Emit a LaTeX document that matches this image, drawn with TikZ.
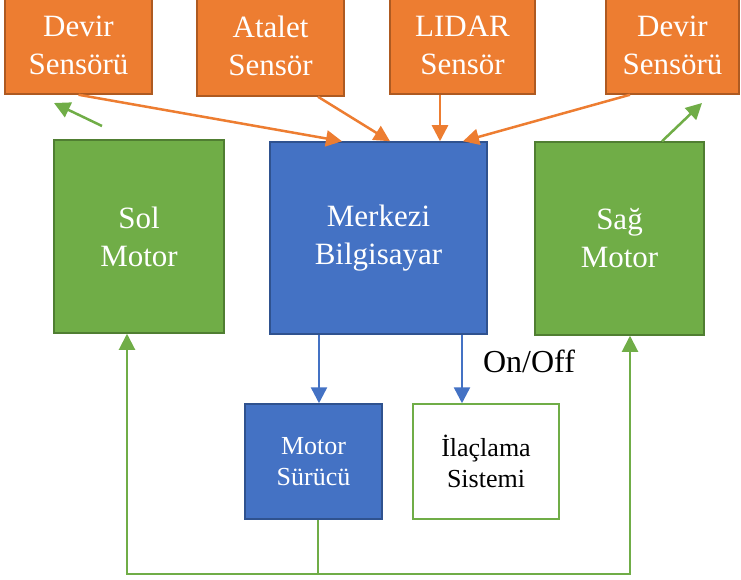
\documentclass[tikz,border=0pt]{standalone}
\usepackage{fontspec}
\setmainfont{Liberation Serif}
\usepackage{tikz}
\usetikzlibrary{arrows.meta,positioning}

\definecolor{orfill}{HTML}{ED7D31}
\definecolor{ordraw}{HTML}{AE5A21}
\definecolor{blfill}{HTML}{4472C4}
\definecolor{bldraw}{HTML}{2F528F}
\definecolor{grfill}{HTML}{70AD47}
\definecolor{grdraw}{HTML}{507E32}

\begin{document}
\begin{tikzpicture}[x=1pt,y=-1pt,>={Triangle[length=16pt,width=16pt]},
    box/.style={rectangle,inner sep=0pt,line width=1.5pt,align=center,
      text=white,font=\fontsize{31}{38}\selectfont},
    sensor/.style={box,fill=orfill,draw=ordraw},
    motorbox/.style={box,fill=grfill,draw=grdraw,minimum width=170pt,minimum height=193pt},
    small/.style={font=\fontsize{26}{31}\selectfont}]
    \tikzstyle{orline}=[draw=orfill,line width=2.5pt,->]
    \tikzstyle{blline}=[draw=blfill,line width=2.5pt,->]
    \tikzstyle{grline}=[draw=grfill,line width=2.5pt]
    \useasboundingbox (0,0) rectangle (741,580);
    % sensors on top
    \node[sensor,minimum width=147pt,minimum height=98pt] (dev1) at (78.5,45)  {Devir\\Sensörü};
    \node[sensor,minimum width=147pt,minimum height=100pt] (atl) at (270.5,46) {Atalet\\Sensör};
    \node[sensor,minimum width=145pt,minimum height=98pt] (lid) at (462.5,45) {LIDAR\\Sensör};
    \node[sensor,minimum width=133pt,minimum height=98pt] (dev2) at (672.5,45) {Devir\\Sensörü};
    % middle row
    \node[motorbox] (sol) at (139,236.5) {Sol\\Motor};
    \node[box,fill=blfill,draw=bldraw,minimum width=217pt,minimum height=192pt] (mrk) at (378.5,238) {Merkezi\\Bilgisayar};
    \node[motorbox,minimum width=169pt] (sag) at (619.5,238.5) {Sağ\\Motor};
    % bottom row
    \node[box,small,fill=blfill,draw=bldraw,minimum width=137pt,minimum height=115pt] (src) at (313.5,461.5) {Motor\\Sürücü};
    \node[box,small,fill=white,draw=grfill,text=black,minimum width=146pt,minimum height=115pt] (ilc) at (486,461.5) {İlaçlama\\Sistemi};
    \node[font=\fontsize{32}{38}\selectfont] (onoff) at (529,361) {On/Off};
    \coordinate (g1) at (102,126);
    \coordinate (g2) at (702,103);
    \coordinate (g3) at (54,103);
    \coordinate (bus) at (630,574);

    \draw[orline] (dev1.south) -- ([xshift=-36.5pt]mrk.north);
    \draw[orline] ([xshift=47.5pt]atl.south) -- ([xshift=11.5pt]mrk.north);
    \draw[orline] ([xshift=-22.5pt]lid.south) -- ([xshift=61.5pt]mrk.north);
    \draw[orline] ([xshift=-42.5pt]dev2.south) -- ([xshift=84.5pt]mrk.north);
    \draw[grline,->] (g1) -- (g3);
    \draw[grline,->] ([xshift=42.5pt]sag.north) -- (g2);
    \draw[blline] ([xshift=-59.5pt]mrk.south) -- ([xshift=5.5pt]src.north);
    \draw[blline] ([xshift=83.5pt]mrk.south) -- ([xshift=-24pt]ilc.north);
    \draw[grline,line width=2pt,<->] ([xshift=-12pt]sol.south) |- (bus) -- ([xshift=10.5pt]sag.south);
    \draw[grline,line width=1.5pt] ([xshift=4.5pt]src.south) -- ([xshift=4.5pt]src.south |- bus);
\end{tikzpicture}
\end{document}
